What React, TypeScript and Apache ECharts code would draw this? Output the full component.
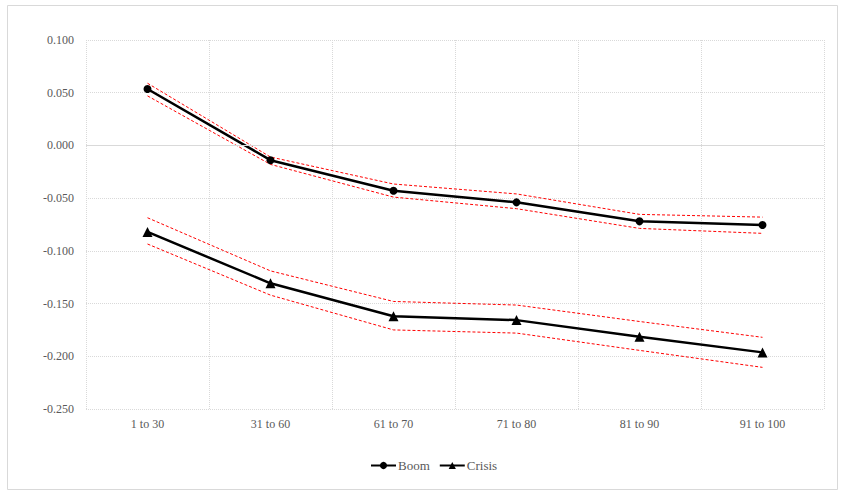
import React, { useEffect, useRef } from "react";
import * as echarts from "echarts";

const categories = ["1 to 30", "31 to 60", "61 to 70", "71 to 80", "81 to 90", "91 to 100"];
const boom = [0.0535, -0.014, -0.043, -0.054, -0.072, -0.0755];
const boomUpper = [0.059, -0.011, -0.0366, -0.046, -0.0654, -0.068];
const boomLower = [0.047, -0.018, -0.049, -0.06, -0.0787, -0.0834];
const crisis = [-0.082, -0.1308, -0.162, -0.1657, -0.1815, -0.1963];
const crisisUpper = [-0.0686, -0.119, -0.148, -0.1514, -0.167, -0.182];
const crisisLower = [-0.0935, -0.142, -0.175, -0.178, -0.1944, -0.2105];

const FONT = "Liberation Serif";
const TEXT = "#595959";
const GRID = "#d9d9d9";

export default function App() {
  const ref = useRef<HTMLDivElement>(null);
  useEffect(() => {
    if (!ref.current) return;
    const chart = echarts.init(ref.current, undefined, { renderer: "svg" });
    const band = (name: string, data: number[]) => ({
      name,
      type: "line",
      data,
      symbol: "none",
      silent: true,
      z: 2,
      lineStyle: { color: "#ff0000", width: 1, type: [3, 2] },
    });
    chart.setOption({
      animation: false,
      textStyle: { fontFamily: FONT },
      graphic: [
        {
          type: "rect",
          shape: { x: 7.5, y: 5.5, width: 830, height: 484 },
          style: { fill: "none", stroke: "#d9d9d9", lineWidth: 1 },
          silent: true,
        },
      ],
      grid: { left: 86, right: 20, top: 40, bottom: 82 },
      legend: {
        data: ["Boom", "Crisis"],
        bottom: 14,
        left: 365,
        itemWidth: 25,
        itemHeight: 9,
        itemGap: 9,
        textStyle: { fontFamily: FONT, fontSize: 13, color: TEXT, padding: [0, 0, 0, -3] },
      },
      xAxis: {
        type: "category",
        data: categories,
        boundaryGap: true,
        axisLine: { show: false },
        axisTick: { show: false },
        axisLabel: { fontFamily: FONT, fontSize: 12, color: TEXT, margin: 9 },
        splitLine: { show: true, lineStyle: { color: GRID, type: [1, 1], width: 1 } },
      },
      yAxis: {
        type: "value",
        min: -0.25,
        max: 0.1,
        interval: 0.05,
        axisLine: { show: false },
        axisTick: { show: false },
        axisLabel: {
          fontFamily: FONT,
          fontSize: 12,
          color: TEXT,
          margin: 12,
          formatter: (v: number) => v.toFixed(3),
        },
        splitLine: { show: true, lineStyle: { color: GRID, type: [1, 1], width: 1 } },
      },
      series: [
        {
          ...band("Boom upper", boomUpper),
          markLine: {
            silent: true,
            symbol: "none",
            label: { show: false },
            lineStyle: { color: GRID, type: "solid", width: 1 },
            data: [{ yAxis: 0 }],
          },
        },
        band("Boom lower", boomLower),
        band("Crisis upper", crisisUpper),
        band("Crisis lower", crisisLower),
        {
          name: "Boom",
          type: "line",
          data: boom,
          symbol: "circle",
          symbolSize: 8,
          z: 3,
          itemStyle: { color: "#000" },
          lineStyle: { color: "#000", width: 2.5 },
        },
        {
          name: "Crisis",
          type: "line",
          data: crisis,
          symbol: "triangle",
          symbolSize: 10,
          z: 3,
          itemStyle: { color: "#000" },
          lineStyle: { color: "#000", width: 2.5 },
        },
      ],
    });
    return () => chart.dispose();
  }, []);
  return (
    <div
      ref={ref}
      style={{ position: "fixed", left: 0, top: 0, width: 844, height: 491, background: "#fff" }}
    />
  );
}
